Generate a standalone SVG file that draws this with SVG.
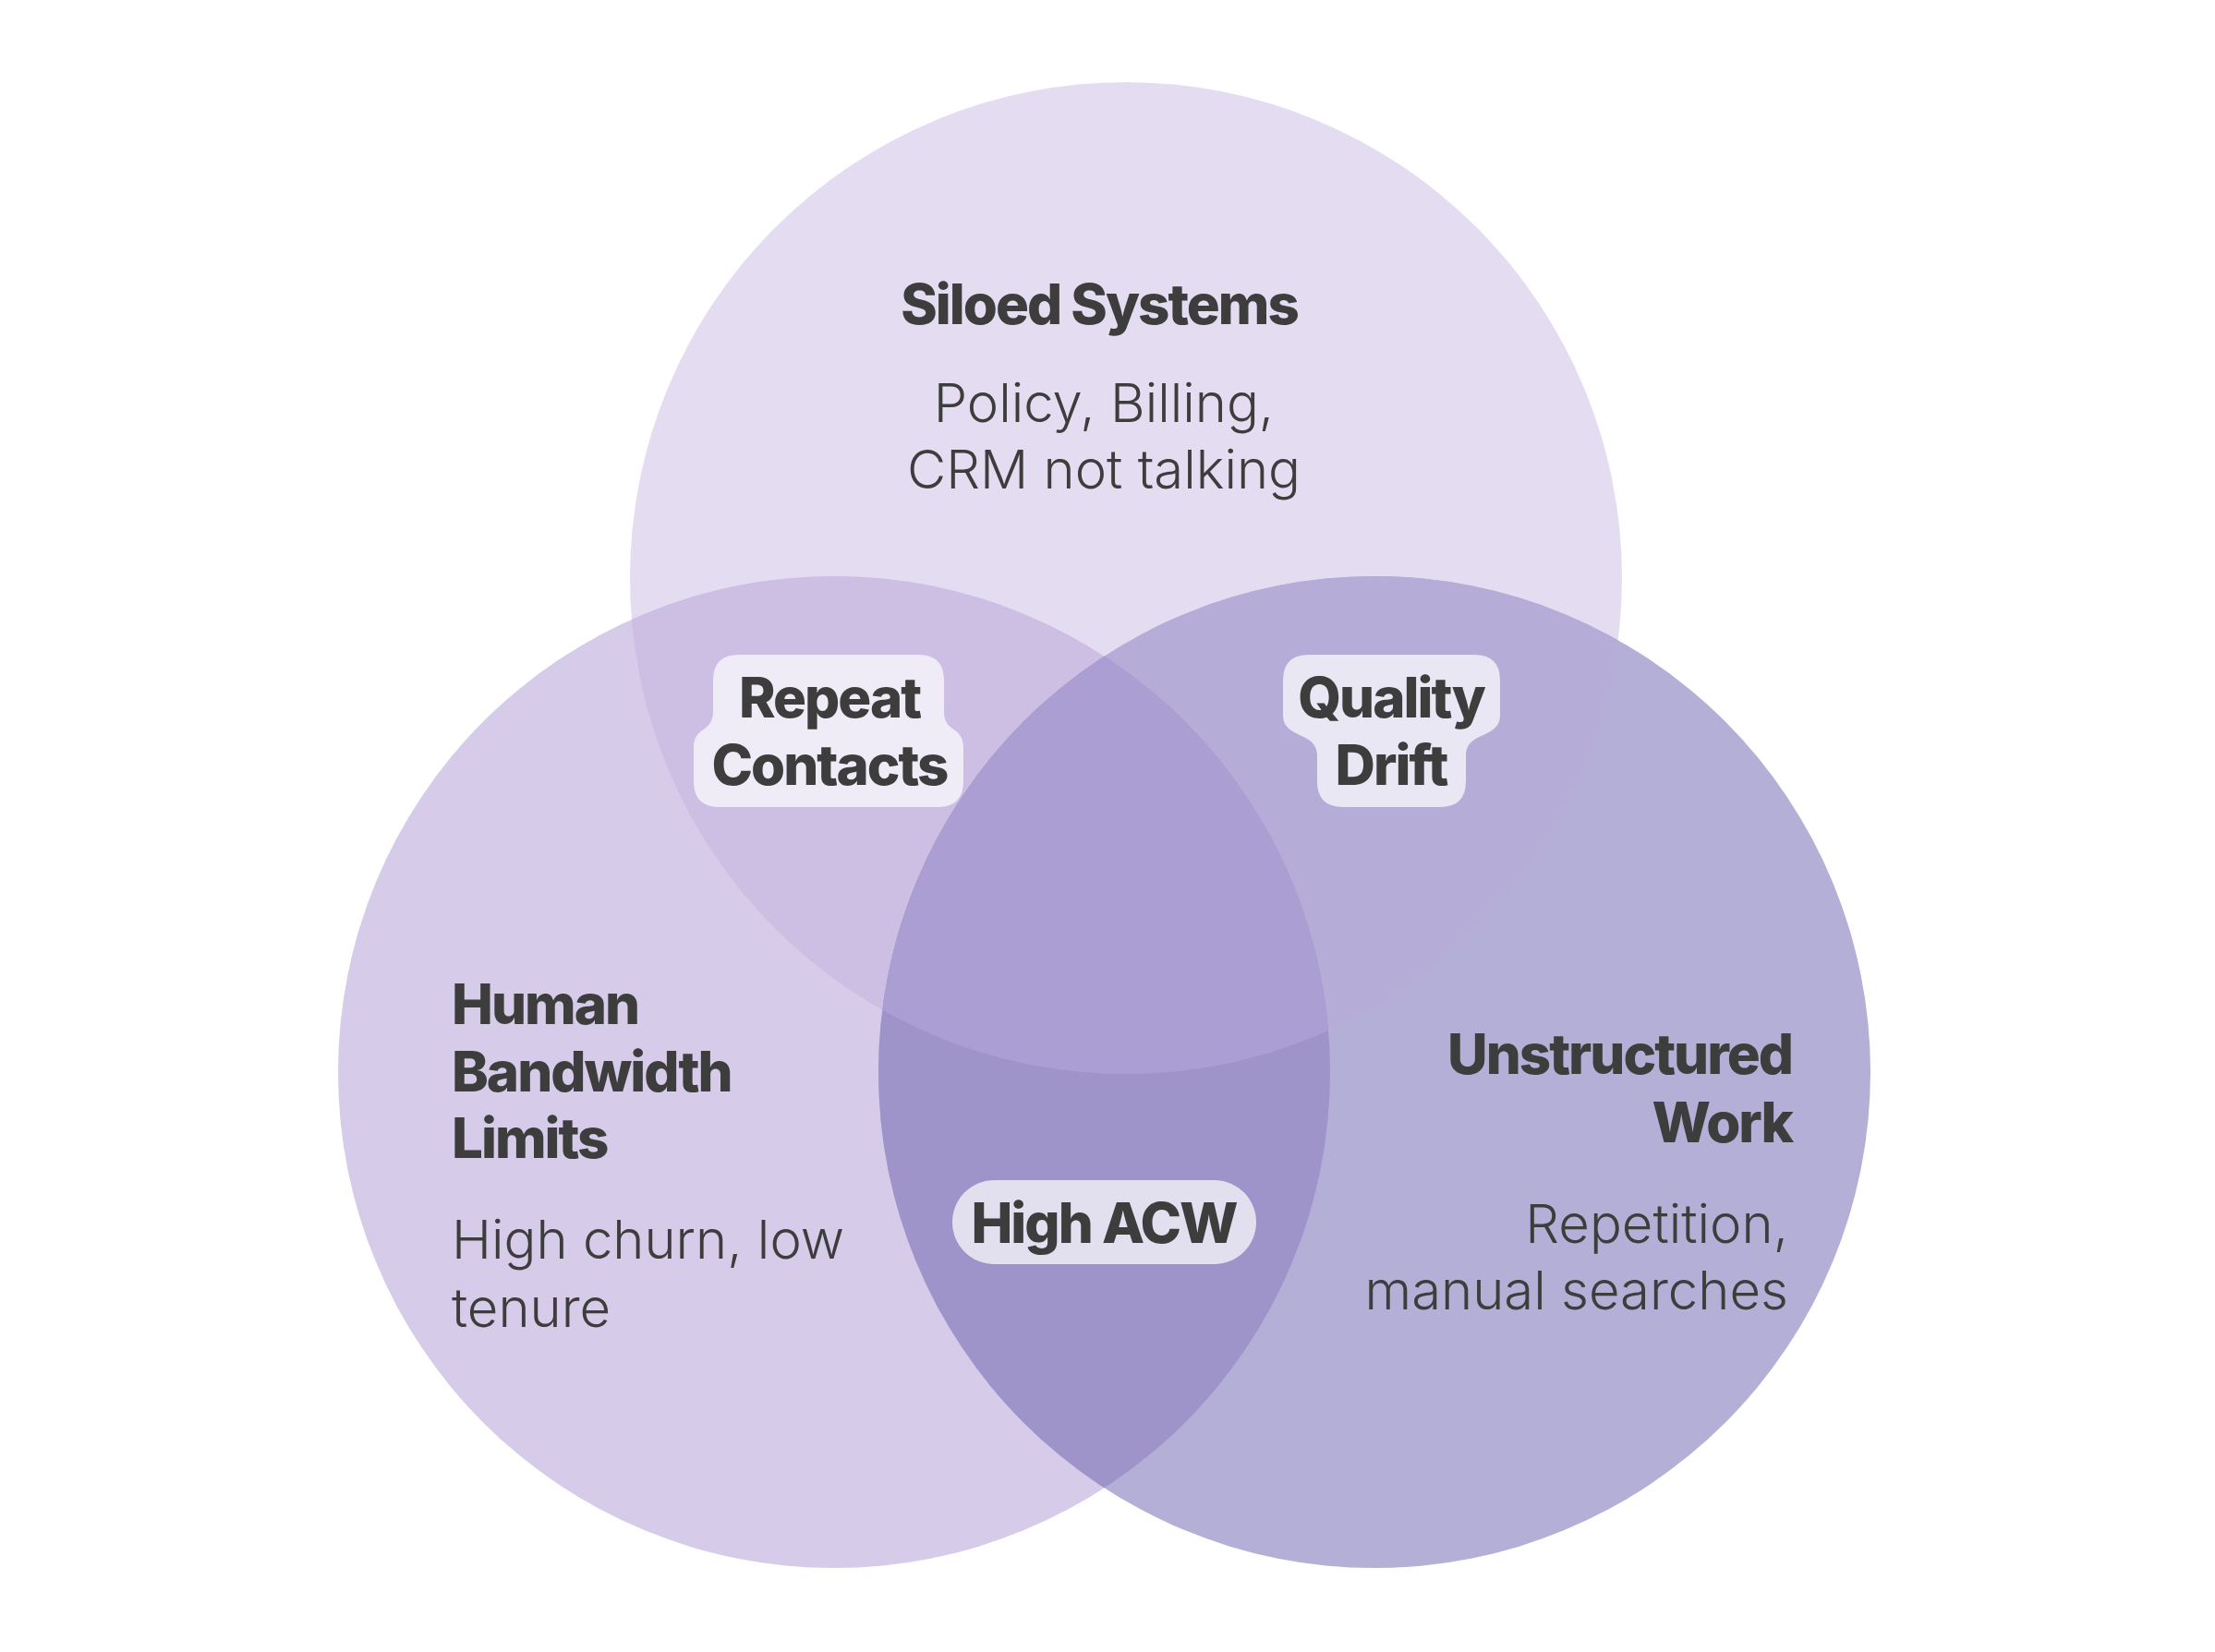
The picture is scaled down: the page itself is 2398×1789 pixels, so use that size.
<svg xmlns="http://www.w3.org/2000/svg" width="2398" height="1789" viewBox="0 0 2398 1789">
<style>
.t{font-family:Inter,"Noto Sans","Liberation Sans",sans-serif;font-weight:800;font-size:60px;fill:#3d3d3d;letter-spacing:-2px}
.d{font-family:Inter,"Noto Sans","Liberation Sans",sans-serif;font-weight:350;font-size:58px;fill:#3d3d3d}
.lbl{fill:#ffffff;fill-opacity:0.7}
</style>
<defs>
<clipPath id="cTop"><circle cx="1219" cy="626" r="537"/></clipPath>
<clipPath id="cLeft"><circle cx="903" cy="1161" r="537"/></clipPath>
</defs>
<rect width="2398" height="1789" fill="#ffffff"/>
<g id="circle-siloed"><circle cx="1219" cy="626" r="537" fill="#e4ddf2"/></g>
<g id="circle-human"><circle cx="903" cy="1161" r="537" fill="#d6cbe9"/></g>
<g id="circle-unstructured"><circle cx="1488" cy="1161" r="537" fill="#b4afd6"/></g>
<g id="overlaps">
<circle cx="903" cy="1161" r="537" fill="#cdbfe4" clip-path="url(#cTop)"/>
<circle cx="1488" cy="1161" r="537" fill="#b5add8" clip-path="url(#cTop)"/>
<circle cx="1488" cy="1161" r="537" fill="#9e94c9" clip-path="url(#cLeft)"/>
<g clip-path="url(#cTop)"><circle cx="1488" cy="1161" r="537" fill="#ab9ed2" clip-path="url(#cLeft)"/></g>
</g>
<g id="text-siloed">
<text class="t" x="1190" y="351" text-anchor="middle">Siloed Systems</text>
<text class="d" x="1195" y="457" text-anchor="middle">Policy, Billing,</text>
<text class="d" x="1195" y="529" text-anchor="middle">CRM not talking</text>
</g>
<g id="text-human">
<text class="t" x="489" y="1109">Human</text>
<text class="t" x="489" y="1182">Bandwidth</text>
<text class="t" x="489" y="1254">Limits</text>
<text class="d" x="489" y="1363">High churn, low</text>
<text class="d" x="489" y="1437">tenure</text>
</g>
<g id="text-unstructured">
<text class="t" x="1940" y="1163" text-anchor="end">Unstructured</text>
<text class="t" x="1940" y="1237" text-anchor="end">Work</text>
<text class="d" x="1936" y="1346" text-anchor="end">Repetition,</text>
<text class="d" x="1936" y="1418" text-anchor="end">manual searches</text>
</g>
<g id="label-repeat">
<path class="lbl" d="M 800 709 H 994 Q 1022 709 1022 737 V 770 C 1022 795 1043 785 1043 810 V 846 Q 1043 874 1015 874 H 779 Q 751 874 751 846 V 810 C 751 785 772 795 772 770 V 737 Q 772 709 800 709 Z"/>
<text class="t" x="898" y="777" text-anchor="middle">Repeat</text>
<text class="t" x="898" y="850" text-anchor="middle">Contacts</text>
</g>
<g id="label-quality">
<path class="lbl" d="M 1417 709 H 1596 Q 1624 709 1624 737 V 775 C 1624 800 1587 792 1587 818 V 846 Q 1587 874 1559 874 H 1454 Q 1426 874 1426 846 V 818 C 1426 792 1389 800 1389 775 V 737 Q 1389 709 1417 709 Z"/>
<text class="t" x="1506" y="777" text-anchor="middle">Quality</text>
<text class="t" x="1506" y="850" text-anchor="middle">Drift</text>
</g>
<g id="label-acw">
<rect class="lbl" x="1031" y="1278" width="329" height="91" rx="45.5"/>
<text class="t" x="1195" y="1346" text-anchor="middle">High ACW</text>
</g>
<g id="connectors"/>
</svg>
